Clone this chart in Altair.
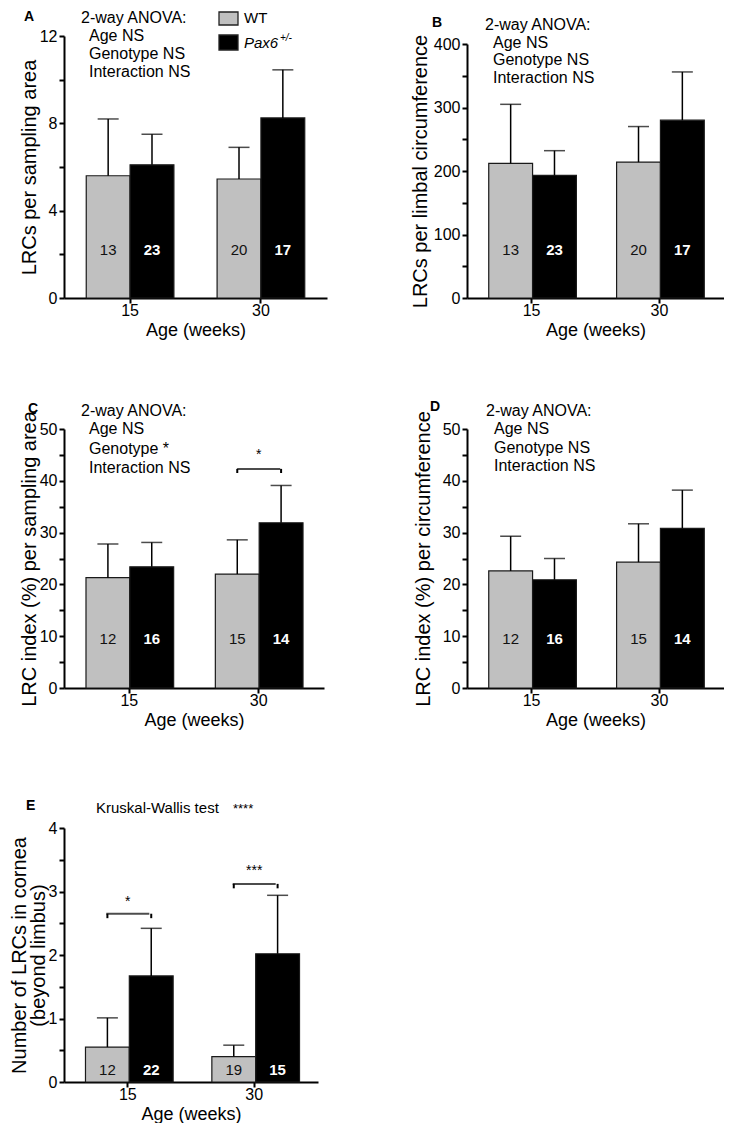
import altair as alt
import pandas as pd

# ---------------- data ----------------
ages = ["15", "30"]
genotypes = ["WT", "Pax6+/-"]

# order of values: WT-15, Pax6-15, WT-30, Pax6-30
a_mean = [5.6, 6.1, 5.45, 8.25]
a_upper = [8.2, 7.5, 6.9, 10.45]
a_n = [13, 23, 20, 17]

b_mean = [212, 193, 214, 280]
b_upper = [305, 232, 270, 356]
b_n = [13, 23, 20, 17]

c_mean = [21.3, 23.4, 22.0, 31.9]
c_upper = [27.8, 28.1, 28.6, 39.1]
c_n = [12, 16, 15, 14]

d_mean = [22.6, 20.9, 24.3, 30.8]
d_upper = [29.3, 25.0, 31.7, 38.2]
d_n = [12, 16, 15, 14]

e_mean = [0.55, 1.67, 0.40, 2.02]
e_upper = [1.01, 2.42, 0.58, 2.94]
e_n = [12, 22, 19, 15]

FONT = "Liberation Sans"
GRAY = "#c0c0c0"
one = pd.DataFrame({"k": [0]})


def table(mean, upper, n):
    rows = []
    k = 0
    for age in ages:
        for g in genotypes:
            rows.append(dict(age=age, genotype=g, mean=mean[k], upper=upper[k], n=str(n[k])))
            k += 1
    return pd.DataFrame(rows)


def note(text, x, y, size=16, weight="normal", style="normal"):
    return alt.Chart(one).mark_text(
        text=text, font=FONT, fontSize=size, fontWeight=weight, fontStyle=style,
        align="left", baseline="alphabetic", color="black"
    ).encode(x=alt.value(x), y=alt.value(y))


def box(x1, x2, y1, y2, fill):
    return alt.Chart(one).mark_rect(fill=fill, stroke="#222", strokeWidth=1.3).encode(
        x=alt.value(x1), x2=alt.value(x2), y=alt.value(y1), y2=alt.value(y2))


def panel(df, w, h, top, ymax, tick_step, label_step, ytitle, n_level,
          notes, brackets=(), title_lh=None, title_pad=0):
    xsc = alt.Scale(domain=ages, paddingInner=0.33, paddingOuter=0.17)
    xax = alt.Axis(title="Age (weeks)", labelAngle=0)
    x = alt.X("age:N", scale=xsc, axis=xax)
    xo = alt.XOffset("genotype:N", scale=alt.Scale(domain=genotypes, paddingInner=0, paddingOuter=0))
    ysc = alt.Scale(domain=[0, ymax], range=[h, top], nice=False)
    nt = int(round(ymax / tick_step))
    vals = [round(i * tick_step, 4) for i in range(nt + 1)]
    axkw = dict(title=ytitle, values=vals, titlePadding=title_pad,
                labelExpr=f"abs(datum.value / {label_step} - round(datum.value / {label_step})) < 0.001 ? ('' + datum.value) : ''")
    if title_lh:
        axkw["titleLineHeight"] = title_lh
    yax = alt.Axis(**axkw)

    def Y(field):
        return alt.Y(field, scale=ysc, axis=yax)

    base = alt.Chart(df)
    bars = base.mark_bar(stroke="#1a1a1a", strokeWidth=1.2).encode(
        x=x, xOffset=xo, y=Y("mean:Q"),
        fill=alt.Fill("genotype:N", scale=alt.Scale(domain=genotypes, range=[GRAY, "black"]), legend=None))
    stems = base.mark_rule(color="black", strokeWidth=1.5).encode(
        x=x, xOffset=xo, y=Y("mean:Q"), y2="upper:Q")
    caps = base.mark_tick(color="black", thickness=1.5, size=21).encode(
        x=x, xOffset=xo, y=Y("upper:Q"))
    lab_wt = base.transform_filter(alt.datum.genotype == "WT").transform_calculate(
        ly=str(n_level)).mark_text(font=FONT, fontSize=15, baseline="alphabetic", color="#111").encode(
        x=x, xOffset=xo, y=Y("ly:Q"), text="n:N")
    lab_px = base.transform_filter(alt.datum.genotype != "WT").transform_calculate(
        ly=str(n_level)).mark_text(font=FONT, fontSize=15, fontWeight="bold", baseline="alphabetic",
                                   color="white").encode(
        x=x, xOffset=xo, y=Y("ly:Q"), text="n:N")
    layers = [bars, stems, caps, lab_wt, lab_px]
    for (age, level, drop, star, star_level) in brackets:
        hd = pd.DataFrame({"age": [age], "lv": [level], "sl": [star_level], "s": [star]})
        ed = pd.DataFrame({"age": [age, age], "genotype": genotypes,
                           "lv": [level, level], "lv2": [level - drop, level - drop]})
        layers.append(alt.Chart(hd).mark_tick(color="black", thickness=2, size=43).encode(
            x=x, y=Y("lv:Q")))
        layers.append(alt.Chart(ed).mark_rule(color="black", strokeWidth=2).encode(
            x=x, xOffset=xo, y=Y("lv:Q"), y2="lv2:Q"))
        layers.append(alt.Chart(hd).mark_text(font=FONT, fontSize=14, baseline="alphabetic",
                                              color="black").encode(
            x=x, y=Y("sl:Q"), text="s:N"))
    layers += list(notes)
    return alt.layer(*layers).properties(width=w, height=h)


A = panel(table(a_mean, a_upper, a_n), 263, 262, 0, 12, 2, 4, "LRCs per sampling area", 1.97, [
    note("A", -40, -15, 14, "bold"),
    note("2-way ANOVA:", 17, -13),
    note("Age NS", 25, 5),
    note("Genotype NS", 25, 23),
    note("Interaction NS", 25, 41),
    box(155, 174, -24, -11, GRAY),
    box(155, 174, -1, 14, "black"),
    note("WT", 180, -13, 15),
    note("Pax6", 180, 12, 15, "normal", "italic"),
    note("+/-", 216, 5, 10, "normal", "italic"),
])

B = panel(table(b_mean, b_upper, b_n), 257, 262, 8, 400, 50, 100, "LRCs per limbal circumference", 67.5, [
    note("B", -35, -9, 14, "bold"),
    note("2-way ANOVA:", 18, -6),
    note("Age NS", 26, 12),
    note("Genotype NS", 26, 29),
    note("Interaction NS", 26, 47),
], title_pad=3)

C = panel(table(c_mean, c_upper, c_n), 260, 259, 0, 50, 5, 10, "LRC index (%) per sampling area", 8.4, [
    note("C", -36, -16, 14, "bold"),
    note("2-way ANOVA:", 17, -13),
    note("Age NS", 25, 5),
    note("Genotype *", 25, 25),
    note("Interaction NS", 25, 44),
], brackets=[("30", 42.3, 0.8, "*", 44.2)])

D = panel(table(d_mean, d_upper, d_n), 257, 259, 0, 50, 5, 10, "LRC index (%) per circumference", 8.4, [
    note("D", -37, -18, 14, "bold"),
    note("2-way ANOVA:", 19, -13),
    note("Age NS", 27, 5),
    note("Genotype NS", 27, 24),
    note("Interaction NS", 27, 42),
], title_pad=9)

E = panel(table(e_mean, e_upper, e_n), 254, 263, 9, 4, 0.5, 1,
          ["Number of LRCs in cornea", "(beyond limbus)"], 0.11, [
    note("E", -38, -9, 14, "bold"),
    note("Kruskal-Wallis test", 32, -6, 15),
    note("****", 169, -6, 13),
], brackets=[("15", 2.65, 0.07, "*", 2.77), ("30", 3.12, 0.07, "***", 3.26)], title_lh=19)

chart = alt.concat(
    A, B, C, D, E, columns=2, spacing={"row": 131, "column": 140}, bounds="flush", align="each"
).properties(
    padding={"left": 1, "top": 2, "right": 0, "bottom": 0}
).configure_view(stroke=None).configure_axis(
    grid=False, domainColor="black", domainWidth=2, tickColor="black", tickWidth=2, tickSize=5,
    labelColor="black", titleColor="black", labelFont=FONT, titleFont=FONT, labelFontSize=16,
    titleFontWeight="normal"
).configure_axisX(
    titleFontSize=18, labelPadding=-1, titlePadding=3
).configure_axisY(
    titleFontSize=20, labelPadding=2
)

chart.save("out.html", embed_options={"renderer": "svg", "actions": False})
